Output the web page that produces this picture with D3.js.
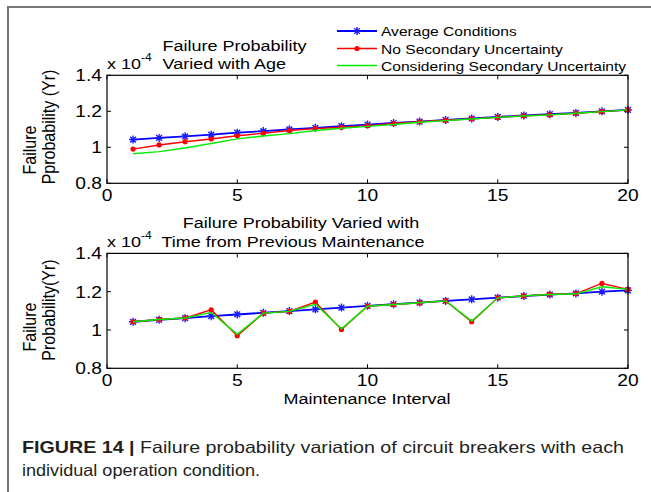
<!DOCTYPE html>
<html><head><meta charset="utf-8">
<script src="https://cdn.jsdelivr.net/npm/d3@7/dist/d3.min.js"></script>
<style>
body{margin:0;background:#fff}
svg{display:block}
text{font-family:"Liberation Sans",Arial,Helvetica,sans-serif;fill:#000}
</style>
</head><body><svg id="c" width="651" height="492"></svg>
<script>
// ---- data ----
const intervals = [1,2,3,4,5,6,7,8,9,10,11,12,13,14,15,16,17,18,19,20];
const xTicks = [0,5,10,15,20];
const xTickLabels = ["0","5","10","15","20"];
const yTicks = [0.8,1,1.2,1.4];
const yTickLabels = ["0.8","1","1.2","1.4"];
const seriesNames = ["Average Conditions","No Secondary Uncertainty","Considering Secondary Uncertainty"];
const seriesColors = ["#0000ff","#ff0000","#00ee00"];

// panel 1: varied with age (x 10^-4)
const avgAge   = [1.043,1.052,1.061,1.070,1.081,1.090,1.100,1.108,1.117,1.126,1.135,1.143,1.152,1.160,1.169,1.177,1.184,1.191,1.200,1.208];
const noSecAge = [0.990,1.013,1.031,1.046,1.064,1.078,1.093,1.104,1.111,1.120,1.132,1.142,1.150,1.158,1.166,1.175,1.180,1.189,1.198,1.208];
const secAge   = [0.964,0.976,0.996,1.021,1.047,1.063,1.076,1.093,1.106,1.116,1.127,1.139,1.148,1.157,1.166,1.174,1.180,1.189,1.198,1.208];

// panel 2: varied with time from previous maintenance (x 10^-4)
const avgMaint   = [1.043,1.053,1.062,1.072,1.081,1.090,1.099,1.108,1.117,1.126,1.135,1.143,1.152,1.160,1.169,1.177,1.185,1.191,1.200,1.207];
const noSecMaint = [1.043,1.055,1.063,1.105,0.970,1.088,1.097,1.146,1.002,1.124,1.133,1.142,1.152,1.043,1.168,1.178,1.187,1.190,1.243,1.212];
const secMaint   = [1.043,1.055,1.063,1.092,0.977,1.088,1.097,1.134,1.006,1.124,1.133,1.142,1.152,1.047,1.168,1.178,1.185,1.189,1.226,1.212];

// ---- drawing ----
const svg = d3.select("#c");
const SX = 1.2; // horizontal stretch of the original figure text

function htext(x, y, s, size, anchor){
  return svg.append("text")
    .attr("transform", `translate(${x},${y}) scale(${SX},1)`)
    .attr("text-anchor", anchor || "start")
    .style("font-size", size + "px")
    .text(s);
}
function vtext(x, y, s, size){
  return svg.append("text")
    .attr("transform", `translate(${x},${y}) scale(${SX},1) rotate(-90)`)
    .attr("text-anchor", "middle")
    .style("font-size", size + "px")
    .text(s);
}

// outer frame
svg.append("path").attr("d","M8,492V7H651").attr("fill","none")
  .attr("stroke","#777").attr("stroke-width",2);

const starPath = (r) => {
  const d = r*0.72;
  return `M${-r},0H${r}M0,${-r}V${r}M${-d},${-d}L${d},${d}M${-d},${d}L${d},${-d}`;
};

function panel(cfg){
  const x = d3.scaleLinear().domain([0,20]).range([cfg.left, cfg.right]);
  const y = d3.scaleLinear().domain([0.8,1.4]).range([cfg.bottom, cfg.top]);
  const g = svg.append("g");
  const tl = 4;
  // ticks (inward, all four sides)
  xTicks.forEach((t,i) => {
    g.append("line").attr("x1",x(t)).attr("x2",x(t)).attr("y1",cfg.bottom).attr("y2",cfg.bottom-tl).attr("stroke","#000");
    g.append("line").attr("x1",x(t)).attr("x2",x(t)).attr("y1",cfg.top).attr("y2",cfg.top+tl).attr("stroke","#000");
    htext(x(t), cfg.bottom + 18, xTickLabels[i], 16, "middle");
  });
  yTicks.forEach((t,i) => {
    g.append("line").attr("x1",cfg.left).attr("x2",cfg.left+tl).attr("y1",y(t)).attr("y2",y(t)).attr("stroke","#000");
    g.append("line").attr("x1",cfg.right).attr("x2",cfg.right-tl).attr("y1",y(t)).attr("y2",y(t)).attr("stroke","#000");
    htext(cfg.left - 5, y(t) + 6, yTickLabels[i], 16, "end");
  });
  // series
  const sets = [cfg.avg, cfg.noSec, cfg.sec];
  const line = d3.line().x((d,i)=>x(intervals[i])).y(d=>y(d));
  sets.forEach((vals, k) => {
    g.append("path").attr("d", line(vals)).attr("fill","none")
      .attr("stroke", seriesColors[k]).attr("stroke-width", k===0?1.8:1.4);
    if (k===0){
      g.selectAll(null).data(vals).enter().append("path")
        .attr("transform",(d,i)=>`translate(${x(intervals[i])},${y(d)})`)
        .attr("d", starPath(4)).attr("stroke","#1a1aff").attr("stroke-width",1.4).attr("fill","none");
    } else if (k===1){
      g.selectAll(null).data(vals).enter().append("circle")
        .attr("cx",(d,i)=>x(intervals[i])).attr("cy",d=>y(d)).attr("r",2.6).attr("fill","#ff0000");
    }
  });
  // box
  g.append("rect").attr("x",cfg.left).attr("y",cfg.top).attr("width",cfg.right-cfg.left)
    .attr("height",cfg.bottom-cfg.top).attr("fill","none").attr("stroke","#000").attr("stroke-width",1.2);
  // exponent label
  const ex = htext(cfg.left, cfg.expY, "", 15, "start");
  ex.append("tspan").text("x 10");
  ex.append("tspan").attr("dy",-8).style("font-size","10px").text("-4");
  return {x,y};
}

panel({left:107, right:628, top:75.3, bottom:183.3, expY:69,
  avg:avgAge, noSec:noSecAge, sec:secAge});
panel({left:107, right:628, top:253.4, bottom:368.3, expY:247,
  avg:avgMaint, noSec:noSecMaint, sec:secMaint});

// titles
htext(162.5, 51, "Failure Probability", 15, "start");
htext(162.5, 69, "Varied with Age", 15, "start");
htext(301, 228, "Failure Probability Varied with", 15, "middle");
htext(293, 247, "Time from Previous Maintenance", 15, "middle");
htext(367, 404, "Maintenance Interval", 15, "middle");

// y labels
vtext(36, 150, "Failure", 16);
vtext(55, 127, "Pprobability (Yr)", 16);
vtext(36, 327, "Failure", 16);
vtext(55, 310, "Probability(Yr)", 16);

// legend
const legY = [31, 48.5, 65.5];
seriesNames.forEach((n,k) => {
  svg.append("line").attr("x1",337).attr("x2",377).attr("y1",legY[k]).attr("y2",legY[k])
    .attr("stroke",seriesColors[k]).attr("stroke-width",k===0?1.8:1.4);
  if (k===0) svg.append("path").attr("transform",`translate(357,${legY[k]})`).attr("d",starPath(4))
    .attr("stroke","#1a1aff").attr("stroke-width",1.4);
  if (k===1) svg.append("circle").attr("cx",357).attr("cy",legY[k]).attr("r",2.6).attr("fill","#ff0000");
  htext(381, legY[k] + 5, n, 13, "start");
});

// caption
const cap1 = svg.append("text").attr("x",22).attr("y",453)
  .attr("textLength",602).attr("lengthAdjust","spacingAndGlyphs")
  .style("font-family",'"Liberation Sans Narrow","Arial Narrow","Liberation Sans",sans-serif')
  .style("font-size","16.5px").style("fill","#231f20");
cap1.append("tspan").style("font-weight","bold").text("FIGURE 14 |");
cap1.append("tspan").text(" Failure probability variation of circuit breakers with each");
svg.append("text").attr("x",22).attr("y",476)
  .attr("textLength",238).attr("lengthAdjust","spacingAndGlyphs")
  .style("font-family",'"Liberation Sans Narrow","Arial Narrow","Liberation Sans",sans-serif')
  .style("font-size","16.5px").style("fill","#231f20")
  .text("individual operation condition.");
</script>
</body></html>
